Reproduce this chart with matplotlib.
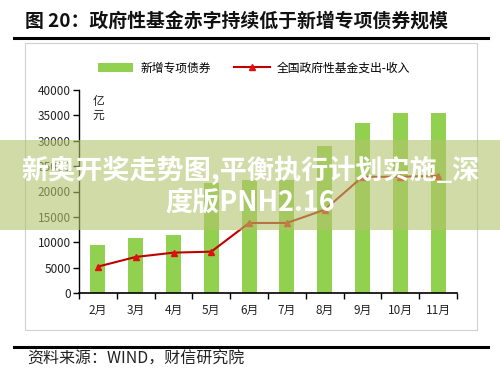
import matplotlib
matplotlib.use("Agg")
import matplotlib.pyplot as plt
from matplotlib.patches import Rectangle
from matplotlib.lines import Line2D
import numpy as np

plt.rcParams['font.family'] = ['Noto Sans CJK SC', 'DejaVu Sans']

# ==== DATA ====
months = ['2月', '3月', '4月', '5月', '6月', '7月', '8月', '9月', '10月', '11月']
new_special_bonds = [9400, 10800, 11500, 21600, 22300, 22300, 29000, 33500, 35400, 35400]
fund_deficit = [5200, 7100, 7950, 8150, 13800, 13800, 16400, 22900, 22900, 23100]
y_ticks = [0, 5000, 10000, 15000, 20000, 25000, 30000, 35000, 40000]

BAR_COLOR = '#92D050'
LINE_COLOR = '#C00000'

W, H = 500, 371
fig = plt.figure(figsize=(W / 100, H / 100), dpi=100)
fig.patch.set_facecolor('white')


def fx(px):
    return px / W


def fy(py):
    return 1 - py / H


# ==== FRAME / TITLE ====
fig.text(fx(25), fy(22), '图 20：政府性基金赤字持续低于新增专项债券规模',
         fontsize=13.6, fontweight='bold', va='center', ha='left', color='#111111')
fig.add_artist(Line2D([fx(14), fx(488)], [fy(38), fy(38)], color='black', lw=2.2))
fig.add_artist(Line2D([fx(14), fx(488)], [fy(347), fy(347)], color='black', lw=2.2))
fig.add_artist(Rectangle((fx(25), fy(330)), fx(452), 287 / H, fill=False,
                         edgecolor='#d0d0d0', lw=0.8))
fig.text(fx(27), fy(359), '资料来源：WIND，财信研究院', fontsize=11.5,
         va='center', ha='left', color='#222222', style='italic')

# ==== CHART ====
ax = fig.add_axes([fx(79), fy(293), fx(378), 203 / H])
x = np.arange(len(months))
bars = ax.bar(x, new_special_bonds, width=0.4, color=BAR_COLOR, zorder=2,
              label='新增专项债券')
line, = ax.plot(x, fund_deficit, color=LINE_COLOR, lw=1.5, marker='^', markersize=5,
                markerfacecolor='#E01010', markeredgecolor='#E01010', zorder=3,
                label='全国政府性基金支出-收入')

ax.set_xlim(-0.5, len(months) - 0.5)
ax.set_ylim(0, 40000)
ax.set_yticks(y_ticks)
ax.set_yticklabels([str(v) for v in y_ticks], fontsize=8.5, color='#222222')
ax.set_xticks(x)
ax.set_xticklabels(months, fontsize=8.5, color='#222222')
ax.set_xticks(np.arange(-0.5, len(months)), minor=True)
ax.tick_params(axis='x', which='major', length=0, pad=8)
ax.tick_params(axis='x', which='minor', length=4, direction='out', width=1)
ax.tick_params(axis='y', length=4, direction='out', width=1, pad=2)
for s in ['top', 'right']:
    ax.spines[s].set_visible(False)
ax.spines['left'].set_linewidth(1)
ax.spines['bottom'].set_linewidth(1.2)
ax.text(0.035, 0.975, '亿\n元', transform=ax.transAxes, fontsize=8.5,
        va='top', ha='left', linespacing=1.1, color='#222222')

fig.legend(handles=[bars, line], loc='center', bbox_to_anchor=(0.508, fy(68)),
           ncol=2, frameon=False, handlelength=3.0, columnspacing=2.0,
           handletextpad=0.6, prop={'size': 8.5})

# ==== WATERMARK BAND ====
fig.add_artist(Rectangle((0, fy(230)), 1, 90 / H, facecolor='#b3c36c',
                         alpha=0.6, edgecolor='none', zorder=5))
fig.text(0.5, fy(170), '新奥开奖走势图,平衡执行计划实施_深', fontsize=19.5,
         fontweight='bold', color='white', ha='center', va='center', zorder=6)
fig.text(0.5, fy(203), '度版PNH2.16', fontsize=19.5,
         fontweight='bold', color='white', ha='center', va='center', zorder=6)

fig.savefig('out.png', dpi=100)
